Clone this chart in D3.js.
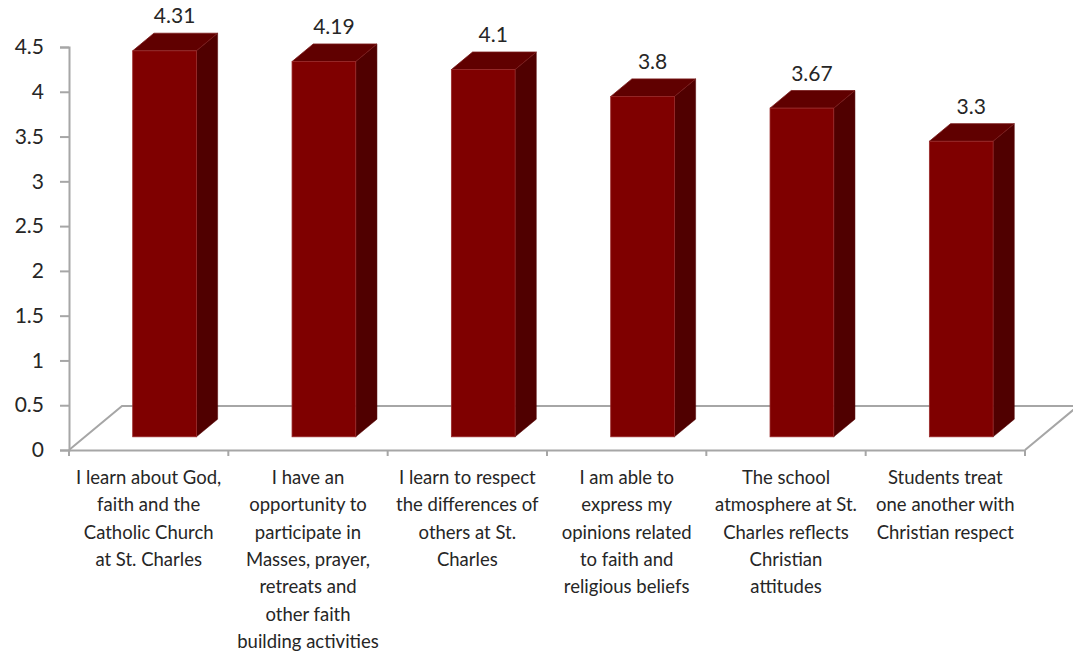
<!DOCTYPE html>
<html>
<head>
<meta charset="utf-8">
<script src="https://cdn.jsdelivr.net/npm/d3@7"></script>
<style>
  html, body { margin: 0; padding: 0; background: #fff; }
  svg { display: block; }
</style>
</head>
<body>
<svg id="chart" width="1073" height="656"></svg>
<script>
// ---- data ----
const categories = [
  "I learn about God, faith and the Catholic Church at St. Charles",
  "I have an opportunity to participate in Masses, prayer, retreats and other faith building activities",
  "I learn to respect the differences of others at St. Charles",
  "I am able to express my opinions related to faith and religious beliefs",
  "The school atmosphere at St. Charles reflects Christian attitudes",
  "Students treat one another with Christian respect"
];
const categoryLines = [
  ["I learn about God,", "faith and the", "Catholic Church", "at St. Charles"],
  ["I have an", "opportunity to", "participate in", "Masses, prayer,", "retreats and", "other faith", "building activities"],
  ["I learn to respect", "the differences of", "others at St.", "Charles"],
  ["I am able to", "express my", "opinions related", "to faith and", "religious beliefs"],
  ["The school", "atmosphere at St.", "Charles reflects", "Christian", "attitudes"],
  ["Students treat", "one another with", "Christian respect"]
];
const values = [4.31, 4.19, 4.1, 3.8, 3.67, 3.3];
const valueLabels = ["4.31", "4.19", "4.1", "3.8", "3.67", "3.3"];
const yTicks = [0, 0.5, 1, 1.5, 2, 2.5, 3, 3.5, 4, 4.5];

// ---- layout ----
const svg = d3.select("#chart");
const x0 = 69, x1 = 1025, yBase = 450, yTop = 47;
const depthDX = 53, depthDY = -44;       // full floor depth projection
const barFront = 0.3, barBack = 0.7;     // bar position within depth
const fontFam = "Lato, 'Open Sans', sans-serif";

const x = d3.scaleBand().domain(d3.range(categories.length)).range([x0, x1]).paddingInner(0).paddingOuter(0);
const y = d3.scaleLinear().domain([0, 4.5]).range([yBase, yTop]);

const off = t => [depthDX * t, depthDY * t];

// floor
const gFloor = svg.append("g");
gFloor.append("path")
  .attr("d", d3.line()([
    [x0, yBase], [x0 + depthDX, yBase + depthDY], [x1 + depthDX, yBase + depthDY], [x1, yBase]
  ]))
  .attr("fill", "#ffffff")
  .attr("stroke", "#a6a6a6")
  .attr("stroke-width", 2);

// y axis
const yAxis = d3.axisLeft(y).tickValues(yTicks).tickSize(9).tickPadding(16)
  .tickFormat(d => String(d));
const gy = svg.append("g").attr("transform", `translate(${x0},0)`).call(yAxis);
gy.select(".domain").attr("stroke", "#a6a6a6").attr("stroke-width", 2);
gy.selectAll(".tick line").attr("stroke", "#a6a6a6").attr("stroke-width", 2);
gy.selectAll(".tick text").attr("font-family", fontFam).attr("font-size", 21).attr("fill", "#262626");

// x axis (front floor edge)
const xAxis = d3.axisBottom(x).tickSize(0).tickFormat("");
const gx = svg.append("g").attr("transform", `translate(0,${yBase})`).call(xAxis);
gx.select(".domain").attr("stroke", "#a6a6a6").attr("stroke-width", 2);
gx.selectAll(".bound").data(d3.range(categories.length + 1)).enter().append("line")
  .attr("x1", i => x0 + i * x.bandwidth()).attr("x2", i => x0 + i * x.bandwidth())
  .attr("y1", 0).attr("y2", 6).attr("stroke", "#a6a6a6").attr("stroke-width", 2);

// bars
const bw = x.bandwidth() * 0.4;
const [fdx, fdy] = off(barFront);
const [bdx, bdy] = off(barBack);
const ddx = bdx - fdx, ddy = bdy - fdy;

const bars = svg.append("g").selectAll("g").data(values).enter().append("g");
bars.each(function(v, i) {
  const g = d3.select(this);
  const left = x(i) + (x.bandwidth() - bw) / 2 + fdx;
  const right = left + bw;
  const bottom = y(0) + fdy;
  const top = y(v) + fdy;
  // side
  g.append("path").attr("d", d3.line()([[right, bottom], [right + ddx, bottom + ddy], [right + ddx, top + ddy], [right, top]]) + "Z")
    .attr("fill", "#500000").attr("stroke", "#500000").attr("stroke-width", 0.5);
  // top
  g.append("path").attr("d", d3.line()([[left, top], [left + ddx, top + ddy], [right + ddx, top + ddy], [right, top]]) + "Z")
    .attr("fill", "#600000").attr("stroke", "#7a1a1a").attr("stroke-width", 0.8);
  // front
  g.append("rect").attr("x", left).attr("y", top).attr("width", bw).attr("height", bottom - top)
    .attr("fill", "#7f0000").attr("stroke", "#9a2a2a").attr("stroke-width", 0.8);
  // value label
  g.append("text")
    .attr("x", left + bw / 2 + 10)
    .attr("y", top + ddy - 10)
    .attr("text-anchor", "middle")
    .attr("font-family", fontFam).attr("font-size", 21).attr("fill", "#262626")
    .text(valueLabels[i]);
});

// category labels
const labels = svg.append("g").selectAll("text").data(categoryLines).enter().append("text")
  .attr("text-anchor", "middle")
  .attr("font-family", fontFam).attr("font-size", 18.5).attr("fill", "#262626");
labels.each(function(lines, i) {
  const t = d3.select(this);
  lines.forEach((ln, k) => {
    t.append("tspan").attr("x", x(i) + x.bandwidth() / 2).attr("y", 484 + k * 27.3).text(ln);
  });
});
</script>
</body>
</html>
